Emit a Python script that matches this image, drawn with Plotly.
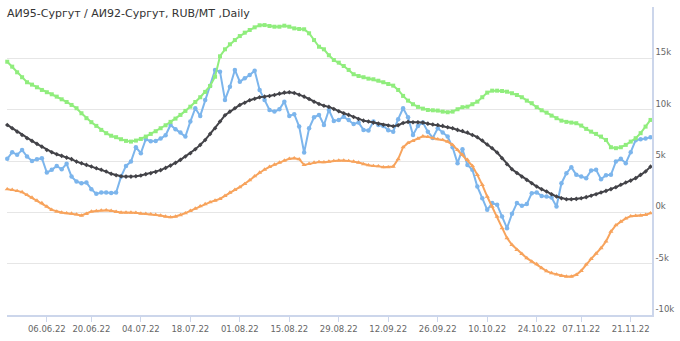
import pandas as pd
import plotly.graph_objects as go

# trading days (weekends and the two public holidays are not on the axis)
dates = [d for d in pd.bdate_range("2022-05-25", "2022-11-25")
         if d.strftime("%Y-%m-%d") not in ("2022-06-13", "2022-11-04")]
categories = [d.strftime("%d.%m.%y") for d in dates]

tick_labels = ["06.06.22", "20.06.22", "04.07.22", "18.07.22", "01.08.22", "15.08.22",
               "29.08.22", "12.09.22", "26.09.22", "10.10.22", "24.10.22", "07.11.22", "21.11.22"]
y_ticks = [-10000, -5000, 0, 5000, 10000, 15000, 20000]
y_tick_text = ["-10k", "-5k", "0k", "5k", "10k", "15k", ""]

blue = [5210, 5860, 5600, 6080, 5430, 5010, 5180, 5270, 3870, 4140, 4520, 4200, 4720, 3480, 3000, 2840, 2900, 2260, 1800, 1930, 1930, 1880,
        1930, 3480, 4520, 4940, 6340, 5760, 7120, 6930, 6960, 7180, 7510, 8510, 8100, 7770, 7380, 8840, 10140, 9390, 10950, 12310, 13870, 13700,
        10950, 12240, 13870, 12730, 13060, 13380, 13800, 11920, 10950, 9970, 9810, 10040, 10780, 9390, 9560, 8350, 5820, 8190, 9260, 9490, 8510,
        9970, 8900, 9000, 9320, 9000, 8610, 8740, 8030, 7960, 8840, 8510, 8420, 8000, 7860, 9070, 10140, 9260, 7540, 8420, 8740, 7860, 7250,
        8190, 7770, 7380, 6340, 4790, 6150, 4620, 4140, 2510, 1380, 240, 900, 730, -410, -1540, -150, 900, 630, 800, 1870, 1930, 1600,
        1540, 1440, 560, 2840, 3810, 4400, 3650, 3480, 3330, 4070, 4140, 3230, 3620, 3650, 4940, 5210, 4790, 5860, 7030, 7120, 7180, 7320]

black = [8510, 8190, 7860, 7540, 7220, 6960, 6670, 6400, 6080, 5860, 5660, 5500, 5330, 5180, 4940, 4790, 4620, 4460, 4300, 4140, 3970, 3750,
         3620, 3520, 3480, 3480, 3520, 3580, 3720, 3810, 3940, 4110, 4330, 4550, 4820, 5110, 5430, 5760, 6150, 6570, 7050, 7640, 8190, 8840,
         9460, 9810, 10140, 10460, 10680, 10920, 11070, 11210, 11270, 11340, 11430, 11560, 11660, 11700, 11630, 11460, 11270, 11040, 10780, 10560, 10380,
         10270, 10070, 9850, 9650, 9490, 9290, 9100, 8930, 8840, 8740, 8640, 8540, 8450, 8390, 8490, 8710, 8810, 8780, 8780, 8740, 8640, 8560,
         8510, 8420, 8290, 8190, 8030, 7930, 7770, 7540, 7320, 6990, 6600, 6250, 5820, 5270, 4690, 4200, 3840, 3480, 3160, 2840, 2510, 2240,
         2020, 1770, 1540, 1380, 1280, 1280, 1310, 1380, 1480, 1610, 1770, 1930, 2090, 2260, 2450, 2680, 2900, 3090, 3330, 3650, 3970, 4450]

green = [14670, 14190, 13640, 13160, 12670, 12440, 12180, 11920, 11700, 11500, 11270, 11010, 10750, 10460, 10140, 9650, 9170, 8780, 8420, 8030, 7710, 7460,
         7320, 7120, 6960, 6890, 6990, 7150, 7380, 7640, 7900, 8190, 8480, 8810, 9130, 9490, 9880, 10290, 10750, 11210, 11730, 12310, 13210, 15200,
         15880, 16370, 16780, 17170, 17500, 17760, 18020, 18220, 18240, 18150, 18080, 18080, 18180, 18080, 17920, 17860, 17830, 17440, 16780, 16130, 15880,
         15300, 14840, 14580, 14250, 13870, 13450, 13280, 13160, 13020, 12960, 12820, 12670, 12500, 12340, 11920, 11340, 10880, 10530, 10270, 10100, 9970, 9940,
         9910, 9810, 9750, 9810, 10040, 10240, 10290, 10530, 10780, 11210, 11660, 11850, 11850, 11820, 11750, 11600, 11430, 11210, 10880, 10630, 10240, 9940,
         9710, 9420, 9170, 8930, 8810, 8740, 8680, 8450, 8130, 7860, 7640, 7380, 7050, 6340, 6250, 6340, 6570, 6890, 7220, 7710, 8350, 9000]

orange = [2260, 2190, 2090, 1970, 1700, 1440, 1150, 900, 560, 240, 80, -20, -80, -120, -210, -310, -150, 80, 120, 180, 210, 150,
          50, -20, -20, -20, -50, -120, -150, -180, -240, -310, -410, -470, -410, -270, -80, 150, 370, 600, 800, 990, 1150, 1310,
          1610, 1930, 2190, 2450, 2770, 3130, 3520, 3870, 4170, 4430, 4650, 4850, 5040, 5210, 5270, 5180, 4620, 4720, 4850, 4910, 4880,
          4940, 5010, 5040, 5040, 5010, 4940, 4850, 4690, 4590, 4520, 4500, 4400, 4400, 4460, 5180, 6340, 6760, 6960, 7180, 7410, 7350, 7220,
          7120, 7050, 6890, 6570, 6080, 5600, 5110, 4520, 3650, 2680, 1540, 560, -410, -1540, -2510, -3160, -3650, -4040, -4460, -4790, -5040, -5430,
          -5720, -5920, -6050, -6180, -6250, -6250, -6080, -5690, -5080, -4530, -4010, -3480, -2840, -1870, -1250, -900, -600, -370, -340, -310, -240, -80]

for s in (blue, black, green, orange):
    assert len(s) == len(categories), (len(s), len(categories))

FONT = "DejaVu Sans"
series = [
    (blue, "#7cb5ec", "circle", 4.5),
    (black, "#434348", "diamond", 3.5),
    (green, "#90ed7d", "square", 4),
    (orange, "#f7a35c", "triangle-up", 4.5),
]

fig = go.Figure()
for vals, col, sym, sz in series:
    fig.add_trace(go.Scatter(
        x=categories, y=vals, mode="lines+markers",
        line=dict(color=col, width=2),
        marker=dict(color=col, symbol=sym, size=sz, line=dict(width=0)),
        cliponaxis=False, showlegend=False, hoverinfo="skip"))

fig.update_layout(
    width=680, height=341,
    margin=dict(l=7, r=28, t=6.5, b=26),
    paper_bgcolor="white", plot_bgcolor="white",
    font=dict(family=FONT, color="#666666"),
    title=dict(text="АИ95-Сургут / АИ92-Сургут, RUB/MT ,Daily",
               x=7 / 680, xref="container", xanchor="left",
               y=1 - 13.5 / 341, yref="container", yanchor="middle",
               font=dict(family=FONT, size=11, color="#333333")),
)
fig.update_xaxes(
    type="category", range=[-0.05, len(categories) - 0.7],
    tickmode="array", tickvals=tick_labels, ticktext=tick_labels,
    showgrid=False, showline=True, linecolor="#ccd6eb", linewidth=1.5,
    ticks="outside", ticklen=5, tickcolor="#ccd6eb", tickwidth=1,
    tickfont=dict(size=8.5, color="#666666", family=FONT), tickangle=0,
    zeroline=False)
fig.update_yaxes(
    side="right", range=[-10000, 20000],
    tickmode="array", tickvals=y_ticks, ticktext=y_tick_text,
    showgrid=True, gridcolor="#e6e6e6", gridwidth=1,
    showline=True, linecolor="#ccd6eb", linewidth=1.5,
    ticks="", ticklabelposition="outside top",
    tickfont=dict(size=8.5, color="#666666", family=FONT),
    zeroline=False)

fig.write_html("out.html")
